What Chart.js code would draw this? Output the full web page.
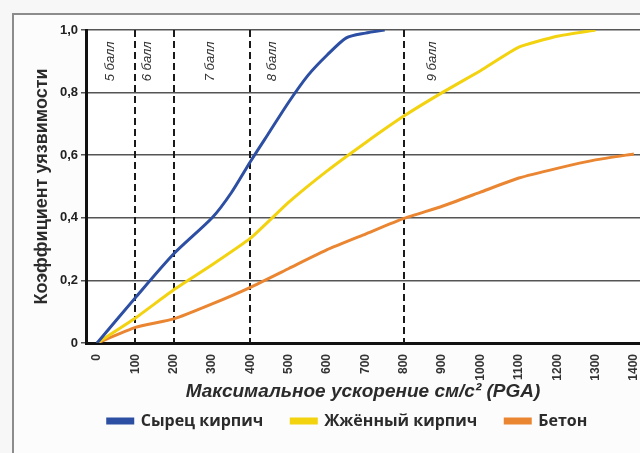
<!DOCTYPE html>
<html>
<head>
<meta charset="utf-8">
<script src="https://cdn.jsdelivr.net/npm/chart.js@4.4.0/dist/chart.umd.min.js"></script>
<style>
  html, body { margin: 0; padding: 0; background: #f7f7f7; }
  #wrap { width: 640px; height: 453px; }
</style>
</head>
<body>
<div id="wrap"><canvas id="chart" width="640" height="453"></canvas></div>
<script>
// ---- data ----
const pgaRaw = [0, 100, 200, 300, 350, 400, 450, 500, 550, 600, 650, 700, 750];
const rawBrick = [0, 0.145, 0.285, 0.40, 0.48, 0.58, 0.675, 0.77, 0.855, 0.92, 0.975, 0.99, 1.0];

const pgaFired = [0, 100, 200, 300, 400, 500, 600, 700, 800, 900, 1000, 1100, 1200, 1300];
const firedBrick = [0, 0.08, 0.17, 0.25, 0.335, 0.45, 0.55, 0.64, 0.725, 0.80, 0.87, 0.945, 0.98, 1.0];

const pgaConcrete = [0, 100, 200, 300, 400, 500, 600, 700, 800, 900, 1000, 1100, 1200, 1300, 1400];
const concrete = [0, 0.05, 0.077, 0.125, 0.178, 0.238, 0.298, 0.348, 0.398, 0.437, 0.482, 0.527, 0.558, 0.585, 0.604];

const seriesNames = ['Сырец кирпич', 'Жжённый кирпич', 'Бетон'];

const xTicks = [0, 100, 200, 300, 400, 500, 600, 700, 800, 900, 1000, 1100, 1200, 1300, 1400];

// intensity boundaries (dashed) and zone captions
const zoneBounds = [100, 200, 400, 800];
const zoneLabels = ['5 балл', '6 балл', '7 балл', '8 балл', '9 балл'];
const zoneLabelX = [34, 131, 296, 458, 874];

const toPoints = (xs, ys) => xs.map((x, i) => ({ x: x, y: ys[i] }));

// frame, dashed boundaries and zone captions
const decorPlugin = {
    id: 'decor',
    beforeDraw(chart) {
        const ctx = chart.ctx;
        const a = chart.chartArea;
        ctx.save();
        ctx.fillStyle = '#f7f7f7';
        ctx.fillRect(0, 0, chart.width, chart.height);
        ctx.fillStyle = '#fcfcfc';
        ctx.fillRect(13, 14, chart.width, chart.height);
        ctx.strokeStyle = '#8c8c8c';
        ctx.lineWidth = 2;
        ctx.strokeRect(13, 14, chart.width + 10, chart.height + 10);
        ctx.fillStyle = '#ffffff';
        ctx.fillRect(a.left, a.top, a.right - a.left, a.bottom - a.top);
        ctx.restore();
    },
    beforeDatasetsDraw(chart) {
        const ctx = chart.ctx;
        const a = chart.chartArea;
        const xs = chart.scales.x;
        const ys = chart.scales.y;
        ctx.save();
        ctx.strokeStyle = '#1a1a1a';
        ctx.lineWidth = 2;
        ctx.setLineDash([7, 4]);
        zoneBounds.forEach(v => {
            const px = Math.round(xs.getPixelForValue(v));
            ctx.beginPath();
            ctx.moveTo(px, a.top);
            ctx.lineTo(px, a.bottom);
            ctx.stroke();
        });
        ctx.setLineDash([]);
        ctx.fillStyle = '#333333';
        ctx.font = 'italic 13px "Liberation Sans", Arial, sans-serif';
        ctx.textAlign = 'center';
        ctx.textBaseline = 'middle';
        zoneLabels.forEach((t, i) => {
            ctx.save();
            ctx.translate(xs.getPixelForValue(zoneLabelX[i]), ys.getPixelForValue(0.9));
            ctx.rotate(-Math.PI / 2);
            ctx.fillText(t, 0, 0);
            ctx.restore();
        });
        ctx.restore();
    }
};

new Chart(document.getElementById('chart'), {
    type: 'line',
    data: {
        datasets: [{
            label: seriesNames[0],
            data: toPoints(pgaRaw, rawBrick),
            borderColor: '#2c4ea3',
            backgroundColor: '#2c4ea3',
            borderWidth: 3,
            pointRadius: 0,
            tension: 0.25
        }, {
            label: seriesNames[1],
            data: toPoints(pgaFired, firedBrick),
            borderColor: '#f3d20f',
            backgroundColor: '#f3d20f',
            borderWidth: 3,
            pointRadius: 0,
            tension: 0.15
        }, {
            label: seriesNames[2],
            data: toPoints(pgaConcrete, concrete),
            borderColor: '#ea8632',
            backgroundColor: '#ea8632',
            borderWidth: 3,
            pointRadius: 0,
            tension: 0.15
        }]
    },
    options: {
        responsive: false,
        animation: false,
        layout: {
            // legend is centred a little right of the canvas middle
            padding: { left: 31, top: 30, right: -24, bottom: 14 }
        },
        plugins: {
            legend: {
                position: 'bottom',
                labels: {
                    color: '#2b2b2b',
                    boxWidth: 25,
                    boxHeight: 4,
                    padding: 28,
                    font: { family: '"Open Sans", sans-serif', size: 16, weight: 'bold' }
                }
            },
            tooltip: { enabled: false }
        },
        scales: {
            x: {
                type: 'linear',
                min: -29,
                max: 1416,
                afterBuildTicks: scale => {
                    scale.ticks = xTicks.map(v => ({ value: v }));
                },
                afterFit: scale => {
                    scale.height = 42;
                    scale.paddingLeft = 0;
                    scale.paddingRight = 0;
                },
                ticks: {
                    autoSkip: false,
                    minRotation: 90,
                    maxRotation: 90,
                    padding: 3,
                    color: '#333333',
                    font: { family: '"Liberation Sans", Arial, sans-serif', size: 12, weight: 'bold' },
                    callback: v => String(v)
                },
                grid: { display: false },
                border: { color: '#111111', width: 3 },
                title: {
                    display: true,
                    text: 'Максимальное ускорение см/с² (PGA)',
                    color: '#2b2b2b',
                    padding: { top: 0, bottom: -18 },
                    font: { family: '"Liberation Sans", Arial, sans-serif', size: 19, weight: 'bold', style: 'italic' }
                }
            },
            y: {
                min: 0,
                max: 1.0,
                afterFit: scale => { scale.width = 55; },
                ticks: {
                    stepSize: 0.2,
                    padding: 3,
                    color: '#222222',
                    font: { family: '"Liberation Sans", Arial, sans-serif', size: 13, weight: 'bold' },
                    callback: v => v === 0 ? '0' : v.toFixed(1).replace('.', ',')
                },
                grid: {
                    color: '#555555',
                    lineWidth: 1.5,
                    tickLength: 5
                },
                border: { color: '#111111', width: 3 },
                title: {
                    display: true,
                    text: 'Коэффициент уязвимости',
                    color: '#2b2b2b',
                    padding: 0,
                    font: { family: '"Liberation Sans", Arial, sans-serif', size: 18, weight: 'bold' }
                }
            }
        }
    },
    plugins: [decorPlugin]
});
</script>
</body>
</html>
